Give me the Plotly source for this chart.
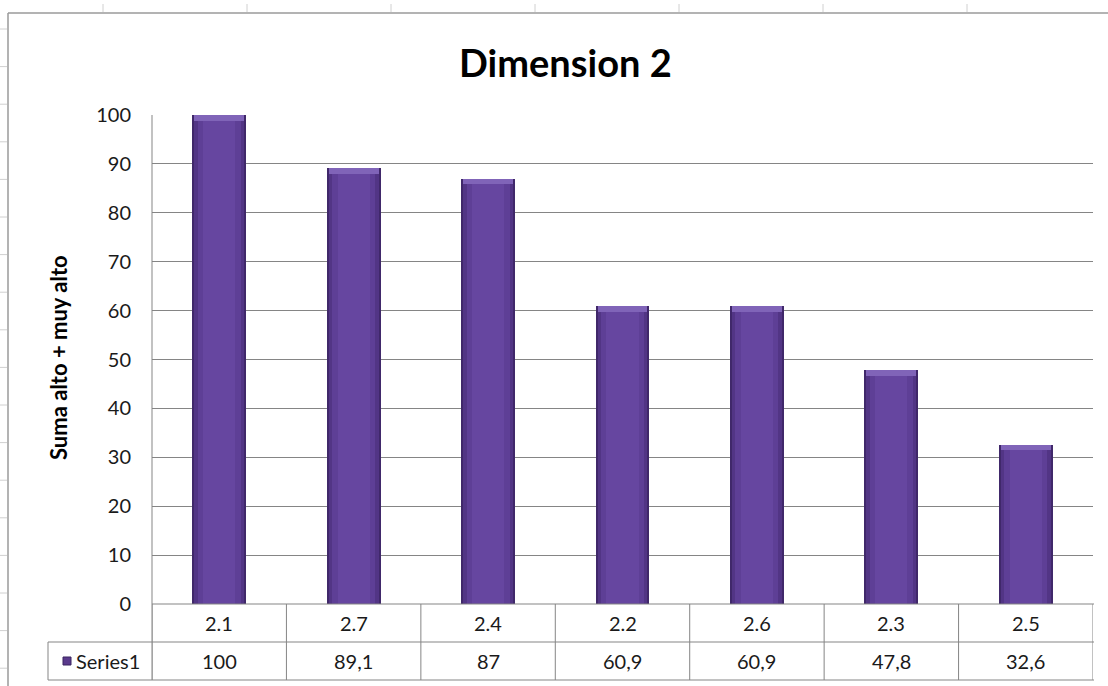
import plotly.graph_objects as go

# Data
categories = ["2.1", "2.7", "2.4", "2.2", "2.6", "2.3", "2.5"]
values = [100, 89.1, 87, 60.9, 60.9, 47.8, 32.6]
value_labels = ["100", "89,1", "87", "60,9", "60,9", "47,8", "32,6"]
series_name = "Series1"
y_ticks = [0, 10, 20, 30, 40, 50, 60, 70, 80, 90, 100]

W, H = 1108, 686
L, R, T, B = 152, 1093, 115, 604  # plot area in pixels
FONT = "Lato"


def px_x(px):
    return (px - L) / (R - L)


def px_y(py):
    return (B - py) / (B - T)


fig = go.Figure()

# bar body built from layered fills to give a rounded, shaded look
layers = [
    (0.40, "#40286a"),
    (0.37, "#523585"),
    (0.32, "#5e3f96"),
    (0.24, "#6646a0"),
]
for width, color in layers:
    fig.add_trace(go.Bar(
        x=categories, y=values, width=width,
        marker=dict(color=color, line=dict(width=0)),
        showlegend=False, hoverinfo="skip",
    ))

# bevelled top cap
cap = 1.2
fig.add_trace(go.Bar(
    x=categories, y=[cap] * len(values), base=[v - cap for v in values],
    width=0.37, marker=dict(color="#8064b8", line=dict(width=0)),
    showlegend=False, hoverinfo="skip",
))

shapes = []
grid_color = "#858585"
line_style = dict(color=grid_color, width=1)

# data table rows
row_h = 38
y_row1 = px_y(B + row_h)
y_row2 = px_y(B + 2 * row_h)
for yy in (y_row1, y_row2):
    shapes.append(dict(type="line", xref="paper", yref="paper",
                       x0=px_x(48), x1=px_x(1094), y0=yy, y1=yy, line=line_style))
shapes.append(dict(type="line", xref="paper", yref="paper",
                   x0=0, x1=px_x(1094), y0=0, y1=0, line=line_style))
# column separators
for i in range(len(categories) + 1):
    shapes.append(dict(type="line", xref="x", yref="paper",
                       x0=i - 0.5, x1=i - 0.5, y0=y_row2, y1=0, line=line_style))
# legend cell left edge and plot-area left edge
shapes.append(dict(type="line", xref="paper", yref="paper",
                   x0=px_x(48), x1=px_x(48), y0=y_row2, y1=y_row1, line=line_style))
shapes.append(dict(type="line", xref="paper", yref="paper",
                   x0=0, x1=0, y0=y_row2, y1=1, line=line_style))
# legend key swatch
shapes.append(dict(type="rect", xref="paper", yref="paper",
                   x0=px_x(63), x1=px_x(71), y0=px_y(665), y1=px_y(657),
                   fillcolor="#5a3a8c", line=dict(color="#3a2560", width=1)))

# chart frame and surrounding sheet grid
frame = dict(color="#9a9a9a", width=1.5)
shapes.append(dict(type="line", xref="paper", yref="paper",
                   x0=px_x(8), x1=px_x(W), y0=px_y(13), y1=px_y(13), line=frame))
shapes.append(dict(type="line", xref="paper", yref="paper",
                   x0=px_x(8), x1=px_x(8), y0=px_y(13), y1=px_y(H), line=frame))
sheet = dict(color="#d0d0d0", width=1)
for cx in (103, 247, 391, 535, 679, 823, 967):
    shapes.append(dict(type="line", xref="paper", yref="paper",
                       x0=px_x(cx), x1=px_x(cx), y0=px_y(4), y1=px_y(12), line=sheet))
ry = 29.0
while ry < H:
    shapes.append(dict(type="line", xref="paper", yref="paper",
                       x0=px_x(0), x1=px_x(7), y0=px_y(ry), y1=px_y(ry), line=sheet))
    ry += 37.6

annotations = []
cell_font = dict(family=FONT, size=20, color="#1a1a1a")
for i, (cat, lab) in enumerate(zip(categories, value_labels)):
    annotations.append(dict(x=i, xref="x", y=(0 + y_row1) / 2, yref="paper",
                            text=cat, showarrow=False, font=cell_font,
                            xanchor="center", yanchor="middle"))
    annotations.append(dict(x=i, xref="x", y=(y_row1 + y_row2) / 2, yref="paper",
                            text=lab, showarrow=False, font=cell_font,
                            xanchor="center", yanchor="middle"))
annotations.append(dict(x=px_x(74), xref="paper", y=(y_row1 + y_row2) / 2, yref="paper",
                        text=series_name, showarrow=False, font=cell_font,
                        xanchor="left", yanchor="middle"))
# axis title
annotations.append(dict(x=px_x(58), xref="paper", y=px_y(358), yref="paper",
                        text="<b>Suma alto + muy alto</b>", textangle=-90,
                        showarrow=False, font=dict(family=FONT, size=22, color="#000"),
                        xanchor="center", yanchor="middle"))
# chart title
annotations.append(dict(x=px_x(565), xref="paper", y=px_y(62), yref="paper",
                        text="<b>Dimension 2</b>", showarrow=False,
                        font=dict(family=FONT, size=38, color="#000"),
                        xanchor="center", yanchor="middle"))

fig.update_layout(
    width=W, height=H,
    margin=dict(l=L, r=W - R, t=T, b=H - B),
    paper_bgcolor="white", plot_bgcolor="white",
    barmode="overlay", bargap=0,
    showlegend=False,
    shapes=shapes, annotations=annotations,
    xaxis=dict(type="category", categoryorder="array", categoryarray=categories,
               range=[-0.5, len(categories) - 0.5], showticklabels=False,
               showgrid=False, zeroline=False, showline=False, ticks=""),
    yaxis=dict(range=[0, 100], tickvals=y_ticks, showgrid=True, gridcolor=grid_color,
               gridwidth=1, zeroline=False, showline=False, ticks="",
               ticklabelstandoff=20,
               tickfont=dict(family=FONT, size=20, color="#1a1a1a")),
)

fig.write_html("out.html")
